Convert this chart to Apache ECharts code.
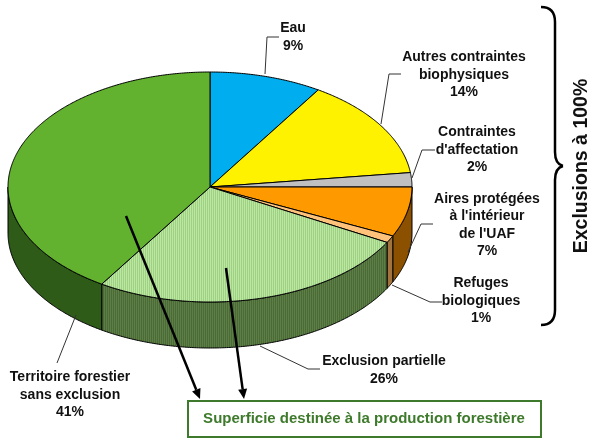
<!DOCTYPE html>
<html><head><meta charset="utf-8">
<script src="https://cdn.jsdelivr.net/npm/echarts@6/dist/echarts.min.js"></script>
<style>html,body{margin:0;padding:0;background:#fff}#c{width:589px;height:441px}</style>
</head><body><div id="c"></div>
<script>
const categories = ["Eau", "Autres contraintes\nbiophysiques", "Contraintes\nd'affectation", "Aires protégées\nà l'intérieur\nde l'UAF", "Refuges\nbiologiques", "Exclusion partielle", "Territoire forestier\nsans exclusion"];
const values = [9, 14, 2, 7, 1, 26, 41];
const topColors = ["#00AEEF", "#FFF200", "#C0C0C0", "#FF9900", "#FFC27A", "stripeTop", "#62B22F"];
const sideColors = ["#006F99", "#A09800", "#808080", "#8B5000", "#A3733E", "stripeSide", "#2F5B18"];
const boxText = "Superficie destinée à la production forestière";
const braceText = "Exclusions à 100%";

function stripe(c1, c2) {
  const cv = document.createElement('canvas');
  cv.width = 2; cv.height = 2;
  const g = cv.getContext('2d');
  g.fillStyle = c1; g.fillRect(0, 0, 1, 2);
  g.fillStyle = c2; g.fillRect(1, 0, 1, 2);
  return { image: cv, repeat: 'repeat' };
}
const patterns = {
  stripeTop: stripe('#BDE5A6', '#9DD27F'),
  stripeSide: stripe('#5D7F47', '#4A6A36')
};
const fillOf = c => patterns[c] || c;

const total = values.reduce((a, b) => a + b, 0);
const DEPTH = 0.4;

const chart = echarts.init(document.getElementById('c'), null, { renderer: 'canvas' });

function renderItem(params, api) {
  const i = params.dataIndex;
  let cum = 0;
  for (let k = 0; k < i; k++) cum += values[k];
  const a0 = cum / total * 360, a1 = (cum + values[i]) / total * 360;
  const pt = (deg, dy) => {
    const r = deg * Math.PI / 180;
    return api.coord([Math.sin(r), Math.cos(r) - (dy || 0)]);
  };
  const children = [];
  const s0 = Math.max(a0, 90), s1 = Math.min(a1, 270);
  if (s1 > s0) {
    const pts = [], bot = [];
    for (let d = s0; d < s1; d += 0.5) { pts.push(pt(d)); bot.push(pt(d, DEPTH)); }
    pts.push(pt(s1)); bot.push(pt(s1, DEPTH));
    children.push({
      type: 'polygon',
      shape: { points: pts.concat(bot.reverse()) },
      style: { fill: fillOf(sideColors[i]), stroke: '#000', lineWidth: 1 }
    });
  }
  const tp = [api.coord([0, 0])];
  for (let d = a0; d < a1; d += 0.5) tp.push(pt(d));
  tp.push(pt(a1));
  children.push({
    type: 'polygon',
    shape: { points: tp },
    style: { fill: fillOf(topColors[i]), stroke: '#000', lineWidth: 1 }
  });
  return { type: 'group', children };
}

const labelFont = 'bold 14px "Liberation Sans", Arial, sans-serif';
const labelPos = [[293, 37], [464, 75], [477, 150], [487, 225], [481, 301], [384, 370], [70, 395]];
const leaders = [
  [[279, 37], [267, 37], [265, 74]],
  [[401, 74], [389, 74], [381, 124]],
  [[435, 150], [422, 150], [412, 178]],
  [[433, 224], [421, 224], [408, 252]],
  [[442, 302], [430, 302], [392, 285]],
  [[320, 369], [308, 369], [260, 346]],
  [[57, 363], [76, 315]]
];

const graphics = [];
categories.forEach((c, i) => {
  graphics.push({
    type: 'text', x: labelPos[i][0], y: labelPos[i][1], z: 10,
    style: { text: c + '\n' + values[i] + '%', font: labelFont, fill: '#111', align: 'center', verticalAlign: 'middle', lineHeight: 17.5 }
  });
  graphics.push({
    type: 'polyline', z: 10, shape: { points: leaders[i] },
    style: { stroke: '#333', lineWidth: 1, fill: null }
  });
});

function arrow(x1, y1, x2, y2) {
  const ang = Math.atan2(y2 - y1, x2 - x1);
  const L = 10, W = 4.5;
  const bx = x2 - L * Math.cos(ang), by = y2 - L * Math.sin(ang);
  const nx = -Math.sin(ang), ny = Math.cos(ang);
  graphics.push({ type: 'line', z: 11, shape: { x1, y1, x2: bx, y2: by }, style: { stroke: '#000', lineWidth: 2.5 } });
  graphics.push({ type: 'polygon', z: 11, shape: { points: [[x2, y2], [bx + nx * W, by + ny * W], [bx - nx * W, by - ny * W]] }, style: { fill: '#000' } });
}
arrow(126, 216, 200, 399);
arrow(226, 268, 244, 399);

graphics.push({
  type: 'rect', z: 10, shape: { x: 188, y: 401, width: 353, height: 36 },
  style: { fill: '#fff', stroke: '#3E7A2B', lineWidth: 2 }
});
graphics.push({
  type: 'text', z: 11, x: 364, y: 419,
  style: { text: boxText, font: 'bold 15px "Liberation Sans", Arial, sans-serif', fill: '#3E7A2B', align: 'center', verticalAlign: 'middle' }
});
// curly brace
const braceStyle = { stroke: '#000', lineWidth: 2.5, fill: null };
[
  { x1: 541, y1: 7, cpx1: 555, cpy1: 7, x2: 555, y2: 22 },
  { x1: 555, y1: 152, cpx1: 555, cpy1: 164, x2: 563, y2: 166 },
  { x1: 563, y1: 166, cpx1: 555, cpy1: 168, x2: 555, y2: 180 },
  { x1: 555, y1: 310, cpx1: 555, cpy1: 325, x2: 541, y2: 325 }
].forEach(s => graphics.push({ type: 'bezierCurve', z: 10, shape: s, style: braceStyle }));
graphics.push({ type: 'line', z: 10, shape: { x1: 555, y1: 22, x2: 555, y2: 152 }, style: braceStyle });
graphics.push({ type: 'line', z: 10, shape: { x1: 555, y1: 180, x2: 555, y2: 310 }, style: braceStyle });
graphics.push({
  type: 'text', z: 10, x: 582, y: 166, rotation: Math.PI / 2,
  style: { text: braceText, font: 'bold 19.5px "Liberation Sans", Arial, sans-serif', fill: '#111', align: 'center', verticalAlign: 'middle' }
});

chart.setOption({
  animation: false,
  grid: { left: 8, top: 72, width: 404, height: 276 },
  xAxis: { type: 'value', min: -1, max: 1, show: false },
  yAxis: { type: 'value', min: -1.4, max: 1, show: false },
  series: [{
    type: 'custom',
    renderItem,
    encode: { x: 0, y: 1 },
    data: values.map(v => [0, 0, v])
  }],
  graphic: graphics
});
</script>
</body></html>
